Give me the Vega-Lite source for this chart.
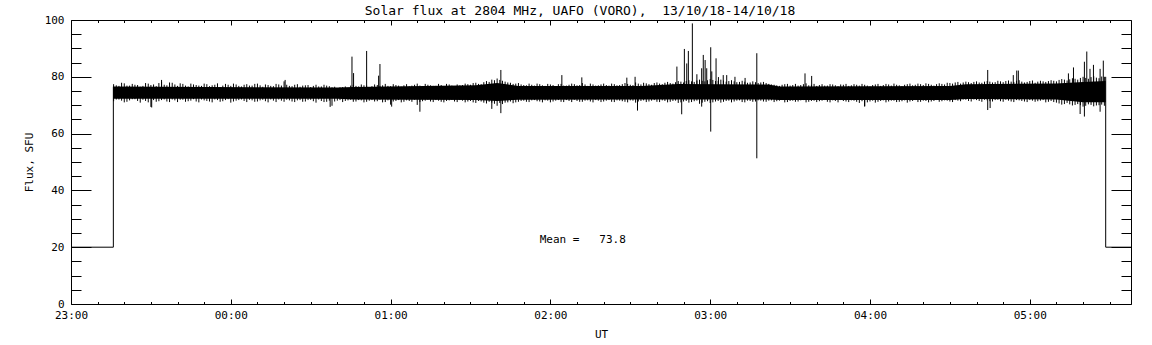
{
  "$schema": "https://vega.github.io/schema/vega-lite/v6.json",
  "autosize": {"type": "none"},
  "padding": {"left": 71, "top": 20, "right": 21, "bottom": 41},
  "width": 1060,
  "height": 284,
  "background": "white",
  "title": {
    "text": "Solar flux at 2804 MHz, UAFO (VORO),\u00a0 13/10/18-14/10/18",
    "font": "DejaVu Sans Mono",
    "fontSize": 13,
    "fontWeight": "normal",
    "color": "black",
    "anchor": "middle",
    "dx": -21,
    "dy": 9,
    "offset": 5
  },
  "config": {
    "view": {"stroke": "black", "strokeWidth": 1},
    "axis": {
      "domain": false,
      "grid": false,
      "tickColor": "black",
      "tickWidth": 1,
      "labelColor": "black",
      "labelFont": "DejaVu Sans Mono",
      "labelFontSize": 11,
      "titleFont": "DejaVu Sans Mono",
      "titleFontSize": 11,
      "titleFontWeight": "normal",
      "titleColor": "black",
      "labelOverlap": false,
      "labelFlush": false
    }
  },
  "datasets": {
    "core": [
      {"t":15.9,"clo":72.3,"chi":76.6},{"t":100,"clo":72.3,"chi":76.2},{"t":106,"clo":72.0,"chi":76.4},
      {"t":152,"clo":71.8,"chi":77.0},{"t":160,"clo":71.5,"chi":77.8},{"t":168,"clo":71.9,"chi":76.8},
      {"t":214,"clo":72.0,"chi":76.8},{"t":228,"clo":72.0,"chi":77.5},{"t":262,"clo":72.0,"chi":77.3},
      {"t":266,"clo":71.8,"chi":76.6},{"t":330,"clo":71.8,"chi":76.8},{"t":336,"clo":72.2,"chi":77.4},
      {"t":370,"clo":72.0,"chi":77.6},{"t":380,"clo":71.0,"chi":78.2},{"t":388.5,"clo":71.0,"chi":78.5}
    ],
    "band": [
      {"t":16,"hi":77.4,"lo":71.4},{"t":18,"hi":76.8,"lo":72.0},{"t":20,"hi":77.7,"lo":71.0},{"t":22,"hi":76.9,"lo":71.7},
      {"t":24,"hi":77.2,"lo":72.1},{"t":26,"hi":76.5,"lo":70.9},{"t":28,"hi":77.8,"lo":71.5},{"t":30,"hi":77.1,"lo":69.4},
      {"t":32,"hi":76.7,"lo":71.2},{"t":34,"hi":78.2,"lo":71.8},{"t":36,"hi":77.0,"lo":71.3},{"t":38,"hi":77.9,"lo":72.0},
      {"t":40,"hi":76.8,"lo":71.1},{"t":42,"hi":77.5,"lo":71.9},{"t":44,"hi":76.6,"lo":71.4},{"t":46,"hi":77.3,"lo":72.1},
      {"t":48,"hi":76.9,"lo":71.0},{"t":50,"hi":77.6,"lo":71.7},{"t":52,"hi":76.7,"lo":71.3},{"t":54,"hi":77.2,"lo":72.0},
      {"t":56,"hi":76.4,"lo":71.2},{"t":58,"hi":77.5,"lo":71.8},{"t":60,"hi":76.8,"lo":70.9},{"t":62,"hi":77.3,"lo":71.6},
      {"t":64,"hi":76.6,"lo":72.0},{"t":66,"hi":77.4,"lo":71.1},{"t":68,"hi":76.9,"lo":71.7},{"t":70,"hi":77.6,"lo":71.3},
      {"t":72,"hi":76.5,"lo":71.9},{"t":74,"hi":77.1,"lo":71.0},{"t":76,"hi":76.7,"lo":71.6},{"t":78,"hi":77.3,"lo":72.0},
      {"t":80,"hi":78.4,"lo":71.2},{"t":82,"hi":76.8,"lo":71.7},{"t":84,"hi":77.2,"lo":71.1},{"t":86,"hi":76.5,"lo":71.8},
      {"t":88,"hi":77.0,"lo":71.3},{"t":90,"hi":76.4,"lo":71.9},{"t":92,"hi":77.2,"lo":70.9},{"t":94,"hi":76.6,"lo":71.5},
      {"t":96,"hi":76.9,"lo":71.2},{"t":98,"hi":76.3,"lo":69.8},{"t":100,"hi":76.0,"lo":71.6},{"t":102,"hi":76.4,"lo":71.1},
      {"t":104,"hi":76.1,"lo":71.7},{"t":106,"hi":77.2,"lo":71.2},{"t":108,"hi":76.6,"lo":71.8},{"t":110,"hi":77.0,"lo":71.0},
      {"t":112,"hi":76.4,"lo":71.6},{"t":114,"hi":77.3,"lo":71.3},{"t":116,"hi":76.8,"lo":71.9},{"t":118,"hi":77.5,"lo":71.1},
      {"t":120,"hi":76.7,"lo":70.2},{"t":122,"hi":77.1,"lo":71.5},{"t":124,"hi":76.5,"lo":71.0},{"t":126,"hi":77.4,"lo":71.7},
      {"t":128,"hi":76.9,"lo":71.2},{"t":130,"hi":77.6,"lo":70.1},{"t":132,"hi":76.6,"lo":71.4},{"t":134,"hi":77.2,"lo":71.9},
      {"t":136,"hi":76.8,"lo":71.1},{"t":138,"hi":77.5,"lo":71.6},{"t":140,"hi":76.7,"lo":71.0},{"t":142,"hi":77.3,"lo":71.7},
      {"t":144,"hi":76.5,"lo":71.3},{"t":146,"hi":77.0,"lo":71.8},{"t":148,"hi":77.6,"lo":71.0},{"t":150,"hi":77.2,"lo":71.5},
      {"t":152,"hi":77.9,"lo":70.8},{"t":154,"hi":77.4,"lo":71.3},{"t":156,"hi":78.5,"lo":70.6},{"t":158,"hi":79.0,"lo":70.9},
      {"t":160,"hi":79.4,"lo":69.8},{"t":162,"hi":78.6,"lo":70.4},{"t":164,"hi":78.0,"lo":71.0},{"t":166,"hi":77.5,"lo":70.7},
      {"t":168,"hi":77.8,"lo":71.2},{"t":170,"hi":77.1,"lo":71.6},{"t":172,"hi":77.6,"lo":71.1},{"t":174,"hi":76.9,"lo":71.8},
      {"t":176,"hi":77.4,"lo":71.3},{"t":178,"hi":76.8,"lo":71.7},{"t":180,"hi":77.3,"lo":71.0},{"t":182,"hi":76.7,"lo":71.6},
      {"t":184,"hi":77.5,"lo":71.2},{"t":186,"hi":76.9,"lo":71.8},{"t":188,"hi":77.6,"lo":71.1},{"t":190,"hi":77.0,"lo":71.5},
      {"t":192,"hi":77.8,"lo":71.2},{"t":194,"hi":76.8,"lo":71.7},{"t":196,"hi":77.3,"lo":71.0},{"t":198,"hi":77.0,"lo":71.6},
      {"t":200,"hi":77.6,"lo":71.3},{"t":202,"hi":76.9,"lo":71.8},{"t":204,"hi":77.4,"lo":71.1},{"t":206,"hi":77.1,"lo":71.6},
      {"t":208,"hi":77.8,"lo":71.2},{"t":210,"hi":77.2,"lo":71.7},{"t":212,"hi":78.0,"lo":70.9},{"t":214,"hi":77.3,"lo":71.5},
      {"t":216,"hi":77.7,"lo":71.1},{"t":218,"hi":77.2,"lo":71.6},{"t":220,"hi":78.0,"lo":71.2},{"t":222,"hi":77.4,"lo":71.7},
      {"t":224,"hi":78.2,"lo":71.0},{"t":226,"hi":77.6,"lo":71.5},{"t":228,"hi":78.5,"lo":70.8},{"t":230,"hi":78.0,"lo":71.3},
      {"t":232,"hi":78.8,"lo":70.9},{"t":234,"hi":78.2,"lo":71.4},{"t":236,"hi":79.0,"lo":70.5},{"t":238,"hi":78.4,"lo":71.2},
      {"t":240,"hi":79.2,"lo":70.8},{"t":242,"hi":78.5,"lo":71.3},{"t":244,"hi":79.0,"lo":70.9},{"t":246,"hi":78.3,"lo":71.5},
      {"t":248,"hi":78.8,"lo":71.0},{"t":250,"hi":78.1,"lo":71.6},{"t":252,"hi":78.6,"lo":71.1},{"t":254,"hi":77.9,"lo":71.6},
      {"t":256,"hi":78.4,"lo":71.2},{"t":258,"hi":77.8,"lo":71.7},{"t":260,"hi":78.2,"lo":71.3},{"t":262,"hi":77.5,"lo":71.6},
      {"t":264,"hi":77.2,"lo":71.1},{"t":266,"hi":76.8,"lo":71.6},{"t":268,"hi":77.4,"lo":71.0},{"t":270,"hi":76.9,"lo":71.5},
      {"t":272,"hi":77.5,"lo":71.2},{"t":274,"hi":77.1,"lo":71.7},{"t":276,"hi":77.7,"lo":71.0},{"t":278,"hi":77.2,"lo":71.5},
      {"t":280,"hi":76.8,"lo":71.1},{"t":282,"hi":77.4,"lo":71.6},{"t":284,"hi":76.9,"lo":71.2},{"t":286,"hi":77.3,"lo":71.7},
      {"t":288,"hi":76.7,"lo":71.0},{"t":290,"hi":77.2,"lo":71.5},{"t":292,"hi":76.8,"lo":71.1},{"t":294,"hi":77.4,"lo":71.6},
      {"t":296,"hi":76.9,"lo":70.8},{"t":298,"hi":77.2,"lo":69.7},{"t":300,"hi":76.6,"lo":71.3},{"t":302,"hi":77.3,"lo":70.9},
      {"t":304,"hi":76.8,"lo":71.5},{"t":306,"hi":77.5,"lo":71.0},{"t":308,"hi":76.9,"lo":71.6},{"t":310,"hi":77.2,"lo":71.1},
      {"t":312,"hi":76.7,"lo":71.4},{"t":314,"hi":77.4,"lo":70.9},{"t":316,"hi":77.0,"lo":71.5},{"t":318,"hi":77.6,"lo":71.1},
      {"t":320,"hi":77.1,"lo":71.6},{"t":322,"hi":77.5,"lo":71.0},{"t":324,"hi":76.9,"lo":71.5},{"t":326,"hi":77.7,"lo":71.2},
      {"t":328,"hi":77.3,"lo":71.7},{"t":330,"hi":77.8,"lo":71.3},{"t":332,"hi":78.0,"lo":71.8},{"t":334,"hi":77.6,"lo":71.4},
      {"t":336,"hi":78.3,"lo":71.9},{"t":338,"hi":77.8,"lo":71.3},{"t":340,"hi":78.4,"lo":71.8},{"t":342,"hi":77.9,"lo":71.2},
      {"t":344,"hi":78.5,"lo":71.7},{"t":346,"hi":78.0,"lo":71.3},{"t":348,"hi":78.6,"lo":71.9},{"t":350,"hi":78.1,"lo":71.2},
      {"t":352,"hi":78.7,"lo":71.6},{"t":354,"hi":78.2,"lo":71.1},{"t":356,"hi":78.8,"lo":71.7},{"t":358,"hi":78.0,"lo":71.3},
      {"t":360,"hi":78.5,"lo":71.8},{"t":362,"hi":77.9,"lo":71.2},{"t":364,"hi":78.6,"lo":71.6},{"t":366,"hi":78.2,"lo":71.0},
      {"t":368,"hi":78.8,"lo":71.5},{"t":370,"hi":78.4,"lo":70.9},{"t":372,"hi":79.2,"lo":70.2},{"t":374,"hi":78.7,"lo":70.8},
      {"t":376,"hi":79.5,"lo":69.9},{"t":378,"hi":79.0,"lo":70.4},{"t":380,"hi":80.0,"lo":69.5},{"t":382,"hi":79.3,"lo":70.3},
      {"t":384,"hi":80.2,"lo":69.6},{"t":386,"hi":79.5,"lo":70.0},{"t":388,"hi":80.0,"lo":69.8},
      {"t":17,"hi":77.0,"lo":72.0},{"t":19,"hi":77.9,"lo":71.6},{"t":21,"hi":76.9,"lo":71.2},{"t":23,"hi":77.5,"lo":72.1},
      {"t":25,"hi":77.1,"lo":71.5},{"t":27,"hi":76.8,"lo":71.9},{"t":29,"hi":77.6,"lo":71.0},{"t":31,"hi":77.3,"lo":71.8},
      {"t":33,"hi":77.8,"lo":71.4},{"t":35,"hi":77.2,"lo":72.0},{"t":37,"hi":78.0,"lo":71.1},{"t":39,"hi":77.3,"lo":71.7},
      {"t":41,"hi":77.7,"lo":71.9},{"t":43,"hi":76.9,"lo":71.2},{"t":45,"hi":77.6,"lo":71.6},{"t":47,"hi":77.1,"lo":71.3},
      {"t":49,"hi":76.8,"lo":72.0},{"t":51,"hi":77.4,"lo":71.5},{"t":53,"hi":77.0,"lo":71.0},{"t":55,"hi":77.7,"lo":71.8},
      {"t":57,"hi":76.9,"lo":71.4},{"t":59,"hi":77.2,"lo":72.1},{"t":61,"hi":77.6,"lo":71.3},{"t":63,"hi":76.8,"lo":71.8},
      {"t":65,"hi":77.2,"lo":71.5},{"t":67,"hi":76.9,"lo":71.9},{"t":69,"hi":77.5,"lo":71.2},{"t":71,"hi":77.0,"lo":71.7},
      {"t":73,"hi":77.3,"lo":71.4},{"t":75,"hi":76.8,"lo":72.0},{"t":77,"hi":77.5,"lo":71.1},{"t":79,"hi":76.9,"lo":71.6},
      {"t":81,"hi":77.2,"lo":71.9},{"t":83,"hi":76.7,"lo":71.3},{"t":85,"hi":77.4,"lo":71.7},{"t":87,"hi":76.9,"lo":71.2},
      {"t":89,"hi":77.1,"lo":71.8},{"t":91,"hi":76.8,"lo":71.4},{"t":93,"hi":76.6,"lo":72.0},{"t":95,"hi":77.2,"lo":71.1},
      {"t":97,"hi":76.7,"lo":71.6},{"t":99,"hi":76.5,"lo":71.3},{"t":101,"hi":76.3,"lo":71.8},{"t":103,"hi":76.6,"lo":71.5},
      {"t":105,"hi":76.9,"lo":71.9},{"t":107,"hi":76.8,"lo":71.3},{"t":109,"hi":77.3,"lo":71.7},{"t":111,"hi":76.9,"lo":71.2},
      {"t":113,"hi":76.7,"lo":71.8},{"t":115,"hi":77.1,"lo":71.4},{"t":117,"hi":77.0,"lo":71.0},{"t":119,"hi":76.8,"lo":71.7},
      {"t":121,"hi":77.4,"lo":71.3},{"t":123,"hi":76.9,"lo":71.8},{"t":125,"hi":77.0,"lo":71.2},{"t":127,"hi":76.7,"lo":71.5},
      {"t":129,"hi":77.2,"lo":71.9},{"t":131,"hi":76.9,"lo":71.1},{"t":133,"hi":77.5,"lo":71.6},{"t":135,"hi":77.0,"lo":71.3},
      {"t":137,"hi":76.8,"lo":71.8},{"t":139,"hi":77.1,"lo":71.2},{"t":141,"hi":77.5,"lo":71.5},{"t":143,"hi":76.9,"lo":71.9},
      {"t":145,"hi":77.3,"lo":71.1},{"t":147,"hi":77.1,"lo":71.6},{"t":149,"hi":77.4,"lo":71.3},{"t":151,"hi":77.8,"lo":71.0},
      {"t":153,"hi":77.5,"lo":71.5},{"t":155,"hi":78.1,"lo":70.9},{"t":157,"hi":78.2,"lo":71.2},{"t":159,"hi":78.8,"lo":70.5},
      {"t":161,"hi":78.9,"lo":70.8},{"t":163,"hi":78.3,"lo":70.9},{"t":165,"hi":77.9,"lo":71.3},{"t":167,"hi":77.6,"lo":71.0},
      {"t":169,"hi":77.3,"lo":71.5},{"t":171,"hi":77.0,"lo":71.2},{"t":173,"hi":77.2,"lo":71.7},{"t":175,"hi":77.6,"lo":71.4},
      {"t":177,"hi":77.0,"lo":71.0},{"t":179,"hi":77.5,"lo":71.6},{"t":181,"hi":77.1,"lo":71.3},{"t":183,"hi":77.4,"lo":71.8},
      {"t":185,"hi":76.9,"lo":71.1},{"t":187,"hi":77.2,"lo":71.5},{"t":189,"hi":77.4,"lo":71.9},{"t":191,"hi":77.1,"lo":71.2},
      {"t":193,"hi":77.3,"lo":71.6},{"t":195,"hi":77.6,"lo":71.3},{"t":197,"hi":76.9,"lo":71.8},{"t":199,"hi":77.3,"lo":71.1},
      {"t":201,"hi":77.1,"lo":71.6},{"t":203,"hi":77.6,"lo":71.2},{"t":205,"hi":77.0,"lo":71.7},{"t":207,"hi":77.4,"lo":71.4},
      {"t":209,"hi":77.5,"lo":71.0},{"t":211,"hi":77.1,"lo":71.6},{"t":213,"hi":77.6,"lo":71.3},{"t":215,"hi":77.9,"lo":71.7},
      {"t":217,"hi":77.4,"lo":71.3},{"t":219,"hi":77.8,"lo":71.8},{"t":221,"hi":77.6,"lo":71.1},{"t":223,"hi":77.9,"lo":71.5},
      {"t":225,"hi":77.8,"lo":71.2},{"t":227,"hi":78.1,"lo":71.6},{"t":229,"hi":78.3,"lo":71.0},{"t":231,"hi":78.5,"lo":71.5},
      {"t":233,"hi":78.4,"lo":71.1},{"t":235,"hi":78.7,"lo":71.6},{"t":237,"hi":78.6,"lo":70.9},{"t":239,"hi":78.8,"lo":71.4},
      {"t":241,"hi":78.9,"lo":71.0},{"t":243,"hi":78.6,"lo":71.5},{"t":245,"hi":78.7,"lo":71.2},{"t":247,"hi":78.5,"lo":71.6},
      {"t":249,"hi":78.4,"lo":71.3},{"t":251,"hi":78.2,"lo":71.7},{"t":253,"hi":78.3,"lo":71.0},{"t":255,"hi":78.0,"lo":71.5},
      {"t":257,"hi":78.1,"lo":71.3},{"t":259,"hi":78.0,"lo":71.6},{"t":261,"hi":77.8,"lo":71.2},{"t":263,"hi":77.3,"lo":71.7},
      {"t":265,"hi":77.0,"lo":71.4},{"t":267,"hi":77.2,"lo":71.8},{"t":269,"hi":77.5,"lo":71.1},{"t":271,"hi":77.1,"lo":71.6},
      {"t":273,"hi":76.9,"lo":71.3},{"t":275,"hi":77.4,"lo":71.8},{"t":277,"hi":77.0,"lo":71.2},{"t":279,"hi":77.5,"lo":71.6},
      {"t":281,"hi":77.1,"lo":71.4},{"t":283,"hi":76.9,"lo":71.8},{"t":285,"hi":77.4,"lo":71.0},{"t":287,"hi":77.0,"lo":71.5},
      {"t":289,"hi":77.3,"lo":71.8},{"t":291,"hi":77.5,"lo":71.3},{"t":293,"hi":77.0,"lo":71.7},{"t":295,"hi":77.2,"lo":71.2},
      {"t":297,"hi":77.5,"lo":71.4},{"t":299,"hi":76.9,"lo":71.0},{"t":301,"hi":77.1,"lo":71.6},{"t":303,"hi":77.5,"lo":71.2},
      {"t":305,"hi":77.1,"lo":71.7},{"t":307,"hi":77.3,"lo":71.3},{"t":309,"hi":77.6,"lo":71.6},{"t":311,"hi":77.0,"lo":71.2},
      {"t":313,"hi":77.2,"lo":71.7},{"t":315,"hi":77.6,"lo":71.3},{"t":317,"hi":77.2,"lo":71.8},{"t":319,"hi":77.4,"lo":71.2},
      {"t":321,"hi":77.7,"lo":71.5},{"t":323,"hi":77.2,"lo":71.3},{"t":325,"hi":77.4,"lo":71.8},{"t":327,"hi":77.5,"lo":71.4},
      {"t":329,"hi":77.9,"lo":71.6},{"t":331,"hi":77.6,"lo":71.1},{"t":333,"hi":78.2,"lo":71.6},{"t":335,"hi":78.0,"lo":72.0},
      {"t":337,"hi":78.1,"lo":71.5},{"t":339,"hi":78.2,"lo":72.0},{"t":341,"hi":78.0,"lo":71.5},{"t":343,"hi":78.3,"lo":71.9},
      {"t":345,"hi":78.3,"lo":71.4},{"t":347,"hi":78.1,"lo":71.8},{"t":349,"hi":78.4,"lo":71.4},{"t":351,"hi":78.5,"lo":71.9},
      {"t":353,"hi":78.3,"lo":71.3},{"t":355,"hi":78.6,"lo":71.8},{"t":357,"hi":78.3,"lo":71.5},{"t":359,"hi":78.2,"lo":71.1},
      {"t":361,"hi":78.7,"lo":71.6},{"t":363,"hi":78.3,"lo":71.4},{"t":365,"hi":78.4,"lo":71.8},{"t":367,"hi":78.5,"lo":71.2},
      {"t":369,"hi":78.6,"lo":71.1},{"t":371,"hi":78.9,"lo":70.6},{"t":373,"hi":79.0,"lo":70.4},{"t":375,"hi":79.1,"lo":70.3},
      {"t":377,"hi":79.3,"lo":70.1},{"t":379,"hi":79.6,"lo":70.0},{"t":381,"hi":79.6,"lo":69.8},{"t":383,"hi":79.9,"lo":70.1},
      {"t":385,"hi":79.7,"lo":69.9},{"t":387,"hi":80.1,"lo":70.2}
    ],
    "spikes": [
      {"t":30.3,"lo":69.2,"hi":74},{"t":34.0,"lo":74,"hi":78.9},{"t":80.4,"lo":74,"hi":78.9},{"t":97.3,"lo":69.4,"hi":74},
      {"t":105.5,"lo":74,"hi":87.1},{"t":106.1,"lo":74,"hi":81.3},{"t":111.0,"lo":74,"hi":89.1},{"t":115.5,"lo":74,"hi":80.4},
      {"t":116.0,"lo":74,"hi":84.5},{"t":120.4,"lo":69.5,"hi":74},{"t":131.0,"lo":67.7,"hi":74},{"t":158.0,"lo":68.7,"hi":74},
      {"t":161.4,"lo":67.2,"hi":82.4},{"t":184.3,"lo":74,"hi":80.6},{"t":191.8,"lo":74,"hi":79.8},{"t":208.7,"lo":74,"hi":79.7},
      {"t":211.8,"lo":74,"hi":80.0},{"t":212.7,"lo":68.1,"hi":74},{"t":227.5,"lo":74,"hi":83.6},{"t":229.3,"lo":66.8,"hi":74},
      {"t":230.3,"lo":74,"hi":89.8},{"t":231.2,"lo":74,"hi":84.7},{"t":231.8,"lo":74,"hi":89.1},{"t":233.3,"lo":74,"hi":98.8},
      {"t":235.0,"lo":74,"hi":80.9},{"t":236.8,"lo":69.5,"hi":83.0},{"t":237.4,"lo":74,"hi":87.7},{"t":238.1,"lo":74,"hi":85.9},
      {"t":238.7,"lo":74,"hi":83.0},{"t":240.2,"lo":60.7,"hi":90.4},{"t":240.6,"lo":74,"hi":81.9},{"t":242.2,"lo":74,"hi":86.5},
      {"t":243.1,"lo":74,"hi":79.9},{"t":244.9,"lo":74,"hi":80.6},{"t":246.2,"lo":74,"hi":80.6},{"t":249.3,"lo":74,"hi":80.0},
      {"t":253.1,"lo":74,"hi":79.6},{"t":257.5,"lo":51.3,"hi":88.3},{"t":275.6,"lo":74,"hi":81.2},{"t":278.1,"lo":74,"hi":80.3},
      {"t":298.0,"lo":69.5,"hi":74},{"t":344.2,"lo":68.3,"hi":82.4},{"t":345.1,"lo":69.0,"hi":74},{"t":353.8,"lo":74,"hi":80.6},
      {"t":355.1,"lo":74,"hi":82.2},{"t":355.7,"lo":74,"hi":82.2},{"t":374.5,"lo":74,"hi":81.2},{"t":376.4,"lo":74,"hi":83.3},
      {"t":378.9,"lo":66.9,"hi":74},{"t":380.5,"lo":66.0,"hi":85.3},{"t":381.4,"lo":74,"hi":88.9},{"t":382.6,"lo":74,"hi":82.8},
      {"t":383.9,"lo":74,"hi":84.2},{"t":386.4,"lo":67.7,"hi":82.8},{"t":387.6,"lo":74,"hi":85.7}
    ],
    "steps": [
      {"seg":"start","t":0,"v":20},{"seg":"start","t":15.9,"v":20},{"seg":"start","t":15.9,"v":76.5},
      {"seg":"end","t":388.5,"v":80},{"seg":"end","t":388.5,"v":20},{"seg":"end","t":398,"v":20}
    ]
  },
  "layer": [
    {
      "data": {"name": "core"},
      "mark": {"type": "area", "color": "black", "interpolate": "linear"},
      "encoding": {
        "x": {
          "field": "t", "type": "quantitative",
          "scale": {"domain": [0, 398], "nice": false, "zero": false},
          "axis": {
            "orient": "bottom",
            "values": [0,10,20,30,40,50,60,70,80,90,100,110,120,130,140,150,160,170,180,190,200,210,220,230,240,250,260,270,280,290,300,310,320,330,340,350,360,370,380,390],
            "tickSize": {"condition": {"test": "datum.value % 60 === 0", "value": -5}, "value": -2.5},
            "labelExpr": "datum.value % 60 === 0 ? utcFormat(utc(2018,9,13,23,0) + datum.value * 60000, '%H:%M') : ''",
            "labelPadding": 10,
            "labelAngle": 0,
            "title": "UT",
            "titlePadding": 6
          }
        },
        "y": {
          "field": "clo", "type": "quantitative",
          "scale": {"domain": [0, 100], "nice": false, "zero": false},
          "axis": {
            "orient": "left",
            "values": [0,5,10,15,20,25,30,35,40,45,50,55,60,65,70,75,80,85,90,95,100],
            "tickSize": {"condition": {"test": "datum.value % 20 === 0", "value": -20}, "value": -10},
            "labelExpr": "datum.value % 20 === 0 ? datum.label : ''",
            "labelPadding": 27,
            "title": "Flux, SFU",
            "titlePadding": 10
          }
        },
        "y2": {"field": "chi"}
      }
    },
    {
      "data": {"name": "band"},
      "mark": {"type": "rule", "color": "black", "strokeWidth": 1},
      "encoding": {
        "x": {
          "field": "t", "type": "quantitative",
          "axis": {
            "orient": "top",
            "values": [0,10,20,30,40,50,60,70,80,90,100,110,120,130,140,150,160,170,180,190,200,210,220,230,240,250,260,270,280,290,300,310,320,330,340,350,360,370,380,390],
            "tickSize": {"condition": {"test": "datum.value % 60 === 0", "value": -5}, "value": -2.5},
            "labels": false,
            "title": null
          }
        },
        "y": {
          "field": "lo", "type": "quantitative",
          "axis": {
            "orient": "right",
            "values": [0,5,10,15,20,25,30,35,40,45,50,55,60,65,70,75,80,85,90,95,100],
            "tickSize": {"condition": {"test": "datum.value % 20 === 0", "value": -20}, "value": -10},
            "labels": false,
            "title": null
          }
        },
        "y2": {"field": "hi"}
      }
    },
    {
      "data": {"name": "spikes"},
      "mark": {"type": "rule", "color": "black", "strokeWidth": 1},
      "encoding": {
        "x": {"field": "t", "type": "quantitative", "axis": null},
        "y": {"field": "lo", "type": "quantitative", "axis": null},
        "y2": {"field": "hi"}
      }
    },
    {
      "data": {"name": "steps"},
      "mark": {"type": "line", "color": "black", "strokeWidth": 1},
      "encoding": {
        "x": {"field": "t", "type": "quantitative", "axis": null},
        "y": {"field": "v", "type": "quantitative", "axis": null},
        "detail": {"field": "seg", "type": "nominal"},
        "order": {"value": 0}
      }
    },
    {
      "data": {"values": [{}]},
      "mark": {"type": "text", "text": "Mean =\u00a0\u00a0\u00a073.8", "font": "DejaVu Sans Mono", "fontSize": 11, "color": "black", "align": "left", "baseline": "middle"},
      "encoding": {
        "x": {"datum": 176, "type": "quantitative", "axis": null},
        "y": {"datum": 22.5, "type": "quantitative", "axis": null}
      }
    }
  ],
  "resolve": {"axis": {"x": "independent", "y": "independent"}}
}
